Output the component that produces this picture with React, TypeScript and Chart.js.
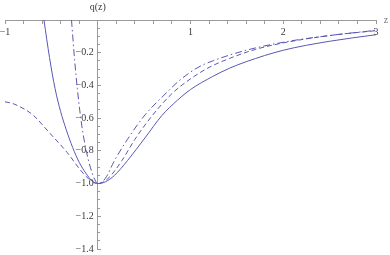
import React, { useEffect, useRef } from "react";
import { Chart, registerables } from "chart.js";

Chart.register(...registerables);

// Solid curve
const solidX = [-0.58, -0.52, -0.46, -0.40, -0.34, -0.27, -0.20, -0.13, -0.06, 0, 0.08, 0.18, 0.32, 0.51, 0.69, 0.86, 1.0, 1.24, 1.42, 1.6, 2.0, 2.5, 3.0];
const solidY = [0, -0.23, -0.42, -0.56, -0.67, -0.78, -0.87, -0.935, -0.985, -1.0, -0.99, -0.95, -0.86, -0.72, -0.585, -0.49, -0.425, -0.345, -0.295, -0.255, -0.185, -0.13, -0.09];

// Dashed curve
const dashedX = [-1, -0.92, -0.84, -0.70, -0.52, -0.33, -0.19, -0.10, 0, 0.10, 0.26, 0.40, 0.58, 0.80, 1.0, 1.2, 1.42, 1.7, 2.0, 2.5, 3.0];
const dashedY = [-0.50, -0.51, -0.53, -0.58, -0.69, -0.81, -0.915, -0.97, -1.0, -0.975, -0.86, -0.73, -0.59, -0.45, -0.36, -0.29, -0.235, -0.18, -0.14, -0.095, -0.065];

// Dash-dot curve
const dotDashX = [-0.283, -0.25, -0.22, -0.19, -0.16, -0.12, -0.08, -0.04, 0, 0.08, 0.18, 0.32, 0.51, 0.75, 0.88, 1.08, 1.24, 1.6, 2.06, 2.5, 3.0];
const dotDashY = [0, -0.24, -0.42, -0.57, -0.69, -0.81, -0.9, -0.965, -1.0, -0.97, -0.86, -0.73, -0.58, -0.44, -0.37, -0.29, -0.25, -0.185, -0.13, -0.095, -0.063];

const xLabelValues = [-1, 1, 2, 3];
const yLabelValues = [-0.2, -0.4, -0.6, -0.8, -1.0, -1.2, -1.4];

const LINE = "rgb(88,88,178)";
const AXIS = "#9a9a9a";
const TEXT = "#3a3a3a";
const FONT = "'Liberation Serif', 'DejaVu Serif', serif";

const fmt = (v: number, digits: number) =>
  (v < 0 ? "\u2212" : "") + Math.abs(v).toFixed(digits);

const near = (a: number, b: number) => Math.abs(a - b) < 1e-6;

const pts = (xs: number[], ys: number[]) => xs.map((x, i) => ({ x, y: ys[i] }));

const zeroPad = (s: any) => {
  s.paddingLeft = 0;
  s.paddingRight = 0;
  s.paddingTop = 0;
  s.paddingBottom = 0;
};

const titles = {
  id: "axisTitles",
  afterDraw(chart: any) {
    const { ctx, scales } = chart;
    const x0 = scales.x.getPixelForValue(0);
    const y0 = scales.y.getPixelForValue(0);
    ctx.save();
    ctx.fillStyle = TEXT;
    ctx.font = `10px ${FONT}`;
    ctx.textAlign = "center";
    ctx.textBaseline = "middle";
    ctx.fillText("q(z)", x0, y0 - 13);
    ctx.fillStyle = "#777";
    ctx.fillText("z", scales.x.right + 10, y0);
    ctx.restore();
  },
};

export default function App() {
  const ref = useRef<HTMLCanvasElement>(null);
  useEffect(() => {
    if (!ref.current) return;
    const chart = new Chart(ref.current, {
      type: "line",
      data: {
        datasets: [
          { data: pts(solidX, solidY), borderColor: LINE, borderWidth: 1, pointRadius: 0, cubicInterpolationMode: "monotone" },
          { data: pts(dashedX, dashedY), borderColor: LINE, borderWidth: 1, pointRadius: 0, borderDash: [5, 3], cubicInterpolationMode: "monotone" },
          { data: pts(dotDashX, dotDashY), borderColor: LINE, borderWidth: 1, pointRadius: 0, borderDash: [7, 3, 1.5, 3], cubicInterpolationMode: "monotone" },
        ],
      },
      options: {
        animation: false,
        responsive: false,
        parsing: false as any,
        layout: { padding: { left: 5, right: 14, top: 20, bottom: 6 } },
        plugins: { legend: { display: false }, tooltip: { enabled: false } },
        scales: {
          x: {
            type: "linear",
            position: { y: 0 } as any,
            min: -1,
            max: 3,
            afterFit: zeroPad,
            grid: { drawOnChartArea: false, drawTicks: true, tickLength: 3, color: AXIS },
            border: { display: true, color: AXIS, width: 1 },
            ticks: {
              stepSize: 0.2,
              autoSkip: false,
              maxRotation: 0,
              padding: 3,
              color: TEXT,
              font: { family: FONT, size: 10 },
              callback: (v: any) => {
                const n = Number(v);
                return xLabelValues.some((t) => near(t, n)) ? fmt(n, 0) : "";
              },
            },
          },
          y: {
            type: "linear",
            position: { x: 0 } as any,
            min: -1.4,
            max: 0,
            afterFit: zeroPad,
            grid: { drawOnChartArea: false, drawTicks: true, tickLength: -4, color: AXIS },
            border: { display: true, color: AXIS, width: 1 },
            ticks: {
              stepSize: 0.2,
              autoSkip: false,
              padding: 3,
              color: TEXT,
              font: { family: FONT, size: 10 },
              callback: (v: any) => {
                const n = Number(v);
                return yLabelValues.some((t) => near(t, n)) ? fmt(n, 1) + "\u2009\u2009" : "";
              },
            },
          },
          y2: {
            type: "linear",
            position: { x: 0 } as any,
            min: -1.4,
            max: 0,
            afterFit: zeroPad,
            grid: { drawOnChartArea: false, drawTicks: true, tickLength: -2, color: AXIS },
            border: { display: false },
            ticks: { stepSize: 0.05, autoSkip: false, callback: () => "" },
          },
        },
      },
      plugins: [titles],
    } as any);
    return () => chart.destroy();
  }, []);
  return (
    <div style={{ position: "fixed", left: 0, top: 0, width: 390, height: 255, background: "#fff" }}>
      <canvas ref={ref} width={390} height={255} style={{ width: 390, height: 255, display: "block" }} />
    </div>
  );
}
